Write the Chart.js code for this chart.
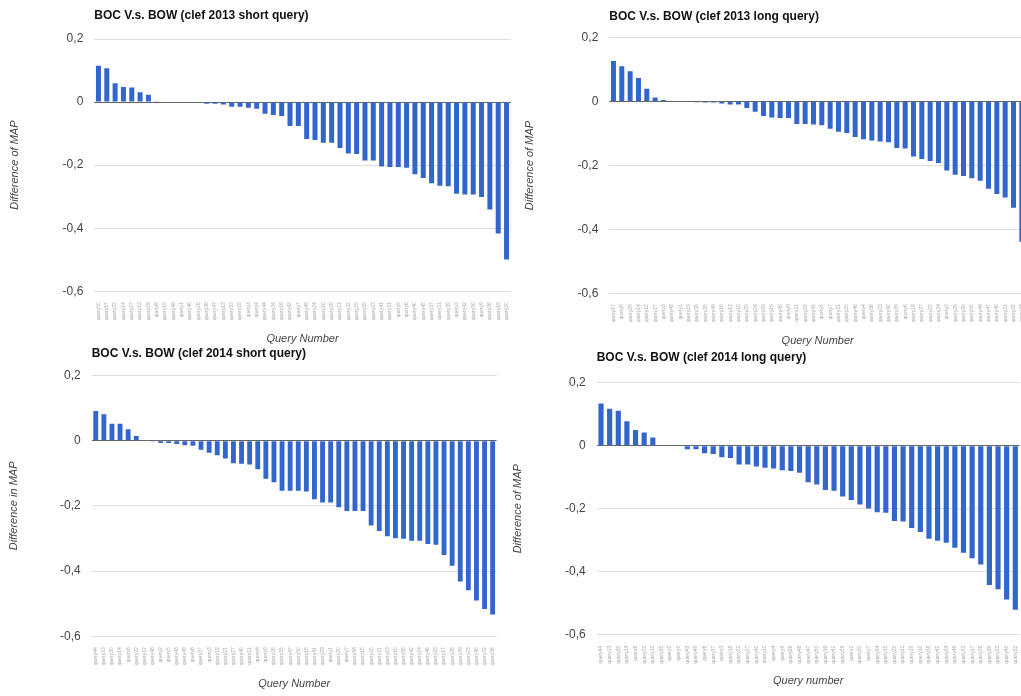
<!DOCTYPE html>
<html><head><meta charset="utf-8">
<script src="https://cdn.jsdelivr.net/npm/chart.js@4.4.1/dist/chart.umd.min.js"></script>
<style>
html,body{margin:0;padding:0;background:#fff;overflow:hidden;width:1021px;height:696px;position:relative;}
canvas{position:absolute;}
</style></head><body>
<canvas id="c1" width="515" height="350" style="left:0px;top:0px"></canvas>
<canvas id="c2" width="506" height="350" style="left:520px;top:0px"></canvas>
<canvas id="c3" width="505" height="356" style="left:0px;top:340px"></canvas>
<canvas id="c4" width="516" height="356" style="left:505px;top:340px"></canvas>
<script>
// ---- data ----
const yTickValues = [-0.6, -0.4, -0.2, 0, 0.2];
const yTickLabels = ['-0,6', '-0,4', '-0,2', '0', '0,2'];

const titles = [
  'BOC V.s. BOW (clef 2013 short query)',
  'BOC V.s. BOW (clef 2013 long query)',
  'BOC V.s. BOW (clef 2014 short query)',
  'BOC V.s. BOW (clef 2014 long query)'
];
const xTitles = ['Query Number', 'Query Number', 'Query Number', 'Query number'];
const yTitles = ['Difference of MAP', 'Difference of MAP', 'Difference in MAP', 'Difference of MAP'];

const queries2013Short = [50,17,22,14,27,12,29,8,15,48,1,46,26,38,47,13,33,18,3,4,44,34,16,43,7,49,24,10,28,21,32,25,35,23,41,31,5,6,40,45,37,11,39,2,42,30,9,36,19,20];
const diff2013Short = [0.115,0.107,0.060,0.048,0.046,0.031,0.023,0.003,0.002,0,
  0,0,-0.002,-0.005,-0.005,-0.008,-0.015,-0.015,-0.018,-0.021,
  -0.037,-0.041,-0.044,-0.076,-0.076,-0.117,-0.120,-0.129,-0.129,-0.146,
  -0.163,-0.165,-0.185,-0.185,-0.204,-0.206,-0.206,-0.208,-0.229,-0.241,
  -0.257,-0.265,-0.267,-0.291,-0.293,-0.293,-0.301,-0.341,-0.417,-0.499];

const queries2013Long = [17,8,29,14,12,27,3,48,1,19,38,35,49,16,13,10,20,24,33,15,45,9,11,28,41,5,7,31,25,46,4,36,23,42,39,6,18,37,22,34,2,26,30,50,44,47,40,21,32,43];
const diff2013Long = [0.127,0.111,0.095,0.074,0.040,0.013,0.005,0,0,0,
  -0.002,-0.003,-0.003,-0.006,-0.009,-0.009,-0.020,-0.032,-0.045,-0.050,
  -0.051,-0.051,-0.070,-0.070,-0.072,-0.074,-0.085,-0.094,-0.098,-0.111,
  -0.118,-0.122,-0.125,-0.127,-0.145,-0.147,-0.172,-0.180,-0.186,-0.192,
  -0.216,-0.229,-0.233,-0.240,-0.248,-0.273,-0.289,-0.300,-0.332,-0.439];

const queries2014Short = [44,13,30,14,8,22,12,48,2,5,43,49,6,37,3,18,21,27,40,11,4,9,26,35,47,50,16,41,29,1,20,7,34,15,25,31,19,10,38,42,24,46,33,17,28,39,23,45,32,36];
const diff2014Short = [0.091,0.081,0.052,0.052,0.035,0.014,0,-0.003,-0.007,-0.007,
  -0.010,-0.014,-0.016,-0.028,-0.037,-0.045,-0.055,-0.069,-0.071,-0.073,
  -0.088,-0.117,-0.128,-0.154,-0.154,-0.154,-0.156,-0.180,-0.190,-0.190,
  -0.204,-0.216,-0.216,-0.216,-0.260,-0.277,-0.293,-0.299,-0.301,-0.307,
  -0.307,-0.317,-0.319,-0.351,-0.384,-0.432,-0.459,-0.490,-0.516,-0.533];

const queries2014Long = [44,13,30,14,8,22,12,35,2,5,43,49,6,37,3,18,21,27,40,11,4,9,26,48,47,50,16,41,29,1,20,7,34,15,25,31,19,10,38,42,24,46,33,17,28,39,23,45,32];
const diff2014Long = [0.134,0.117,0.111,0.078,0.050,0.042,0.026,0,0,-0.002,
  -0.011,-0.011,-0.024,-0.026,-0.037,-0.039,-0.060,-0.060,-0.066,-0.070,
  -0.072,-0.078,-0.080,-0.086,-0.116,-0.123,-0.141,-0.143,-0.161,-0.172,
  -0.187,-0.199,-0.211,-0.213,-0.239,-0.241,-0.261,-0.274,-0.295,-0.302,
  -0.308,-0.324,-0.340,-0.357,-0.377,-0.442,-0.456,-0.488,-0.521];

// ---- drawing ----
const FONT = "Arial, 'Liberation Sans', sans-serif";

function makeChart(id, queryIds, values, idx, o) {
  new Chart(document.getElementById(id), {
    type: 'bar',
    data: {
      labels: queryIds.map(q => 'query' + q),
      datasets: [{ data: values, backgroundColor: '#3366cc', borderWidth: 0,
        categoryPercentage: 1, barPercentage: 0.6 }]
    },
    options: {
      responsive: false, animation: false, devicePixelRatio: 1,
      layout: { padding: { left: 0, right: o.padRight, top: 0, bottom: 0 } },
      plugins: {
        legend: { display: false }, tooltip: { enabled: false },
        title: { display: true, text: titles[idx], align: 'start', fullSize: false, color: '#111',
          font: { family: FONT, size: 12, weight: 'bold' },
          padding: { top: o.titleTop, bottom: o.titleBottom } }
      },
      scales: {
        x: {
          grid: { display: false }, border: { display: false },
          ticks: { autoSkip: false, minRotation: 90, maxRotation: 90, color: '#aaa',
            font: { family: FONT, size: 5 }, padding: 3 },
          title: { display: true, text: xTitles[idx], color: '#444',
            font: { family: FONT, size: 11, style: 'italic' }, padding: { top: 0, bottom: o.xTitlePad + 0.6 } },
          afterFit: s => { s.height = o.xHeight; s.paddingLeft = 0; s.paddingRight = 0; }
        },
        y: {
          min: -0.6, max: 0.2, border: { display: false },
          grid: { color: c => (c.tick && c.tick.value === 0) ? '#666' : '#ddd', drawTicks: false, lineWidth: 1 },
          afterBuildTicks: s => { s.ticks = yTickValues.map(v => ({ value: v })); },
          ticks: { padding: 11, color: '#444', font: { family: FONT, size: 12 },
            callback: v => yTickLabels[yTickValues.indexOf(v)] },
          title: { display: true, text: yTitles[idx], color: '#444',
            font: { family: FONT, size: 11, style: 'italic' }, padding: { top: o.yTitlePad + 0.6, bottom: 0 } },
          afterFit: s => { s.width = o.yWidth; s.paddingTop = 0; s.paddingBottom = 0; }
        }
      }
    }
  });
}

makeChart('c1', queries2013Short, diff2013Short, 0,
  { padRight: 4.3, titleTop: 8.8, titleBottom: 15.8, xHeight: 58.7, xTitlePad: 3.8, yWidth: 94.3, yTitlePad: 7.8 });
makeChart('c2', queries2013Long, diff2013Long, 1,
  { padRight: 0, titleTop: 9.3, titleBottom: 14, xHeight: 56.7, xTitlePad: 1.8, yWidth: 89.3, yTitlePad: 2.8 });
makeChart('c3', queries2014Short, diff2014Short, 2,
  { padRight: 8.3, titleTop: 6.8, titleBottom: 14.2, xHeight: 59.7, xTitlePad: 4.8, yWidth: 91.7, yTitlePad: 6.8 });
makeChart('c4', queries2014Long, diff2014Long, 3,
  { padRight: 1.4, titleTop: 10.8, titleBottom: 17.5, xHeight: 61.3, xTitlePad: 7.8, yWidth: 91.7, yTitlePad: 5.8 });
</script>
</body></html>
